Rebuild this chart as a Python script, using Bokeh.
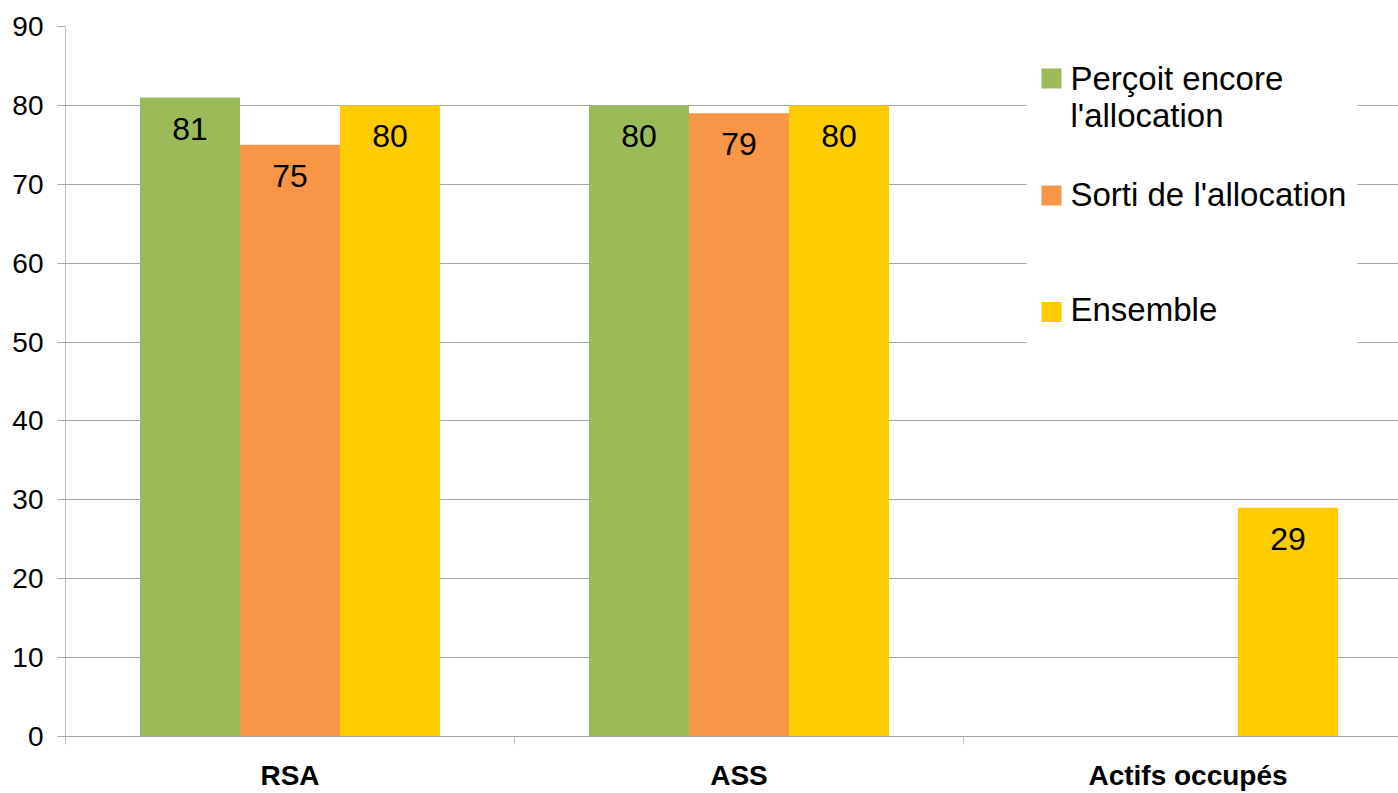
from bokeh.plotting import figure
from bokeh.models import Range1d, FixedTicker, ColumnDataSource
from bokeh.core.properties import value
from bokeh.embed import file_html
from bokeh.resources import INLINE

# ---- data ----
categories = ["RSA", "ASS", "Actifs occupés"]
series_names = ["Perçoit encore", "Sorti de l'allocation", "Ensemble"]
percoit = [81, 80, None]
sorti = [75, 79, None]
ensemble = [80, 80, 29]
y_ticks = [0, 10, 20, 30, 40, 50, 60, 70, 80, 90]

# ---- style / layout ----
FONT = "Liberation Sans"
COLORS = ["#9BBB59", "#F79646", "#FFCC00"]
GRID = "#a6a6a6"
W, H = 1398, 793
BL, BR, BT, BB = 65, 0, 26, 57
FRAME_W = W - BL - BR
FRAME_H = H - BT - BB
CAT_PX = 449.0
X_END = FRAME_W / CAT_PX
Y_MAX = 90
BAR_W = 100.0 / CAT_PX


def fx(px):
    return px / CAT_PX


def fy(py):
    return Y_MAX - py * Y_MAX / FRAME_H


p = figure(width=W, height=H, x_range=Range1d(0, X_END), y_range=Range1d(0, Y_MAX),
           output_backend="svg", toolbar_location=None,
           min_border_left=BL, min_border_right=BR, min_border_top=BT, min_border_bottom=BB)
p.outline_line_color = None
p.background_fill_color = "white"
p.border_fill_color = "white"

centers = [i + 0.5 for i in range(len(categories))]
offsets = [-BAR_W, 0.0, BAR_W]

for vals, color, off in zip([percoit, sorti, ensemble], COLORS, offsets):
    xs = [c + off for c, v in zip(centers, vals) if v is not None]
    ys = [v for v in vals if v is not None]
    src = ColumnDataSource(dict(x=xs, top=ys, label=[str(v) for v in ys]))
    p.vbar(x="x", top="top", width=BAR_W, bottom=0, fill_color=color, line_color=None, source=src)
    p.text(x="x", y="top", text="label", source=src, text_align="center", text_baseline="middle",
           y_offset=31, text_font=value(FONT), text_font_size="32px", text_color="black")

# ---- legend (manual) ----
p.quad(left=[fx(961)], right=[fx(1292)], top=[fy(15)], bottom=[fy(330)],
       fill_color="white", line_color=None)
sq_y = [52, 169, 285.5]
p.scatter(x=[fx(986)] * 3, y=[fy(v) for v in sq_y], marker="square", size=20,
          fill_color=COLORS, line_color=None)
leg_text = ["Perçoit encore", "l'allocation", series_names[1], series_names[2]]
leg_mid = [52, 89, 167.5, 282.5]
p.text(x=[fx(1005)] * 4, y=[fy(v) for v in leg_mid], text=leg_text,
       text_align="left", text_baseline="middle",
       text_font=value(FONT), text_font_size="33px", text_color="black")

# ---- axes ----
p.yaxis.ticker = FixedTicker(ticks=y_ticks)
p.yaxis.major_label_text_font = FONT
p.yaxis.major_label_text_font_size = "28px"
p.yaxis.major_label_text_color = "black"
p.yaxis.axis_line_color = "#bfbfbf"
p.yaxis.major_tick_line_color = GRID
p.yaxis.major_tick_out = 8
p.yaxis.major_tick_in = 0
p.yaxis.minor_tick_line_color = None
p.yaxis.major_label_standoff = 14

p.xaxis.ticker = FixedTicker(ticks=centers, minor_ticks=list(range(len(categories) + 1)))
p.xaxis.major_label_overrides = {c: cat for c, cat in zip(centers, categories)}
p.xaxis.major_label_text_font = FONT
p.xaxis.major_label_text_font_size = "28px"
p.xaxis.major_label_text_font_style = "bold"
p.xaxis.major_label_text_color = "black"
p.xaxis.axis_line_color = GRID
p.xaxis.major_tick_line_color = None
p.xaxis.major_tick_out = 0
p.xaxis.major_tick_in = 0
p.xaxis.minor_tick_line_color = "#bfbfbf"
p.xaxis.minor_tick_out = 8
p.xaxis.minor_tick_in = 0
p.xaxis.major_label_standoff = 15

p.xgrid.grid_line_color = None
p.ygrid.ticker = FixedTicker(ticks=y_ticks)
p.ygrid.grid_line_color = GRID
p.ygrid.grid_line_width = 1

open("out.html", "w").write(file_html(p, INLINE))
